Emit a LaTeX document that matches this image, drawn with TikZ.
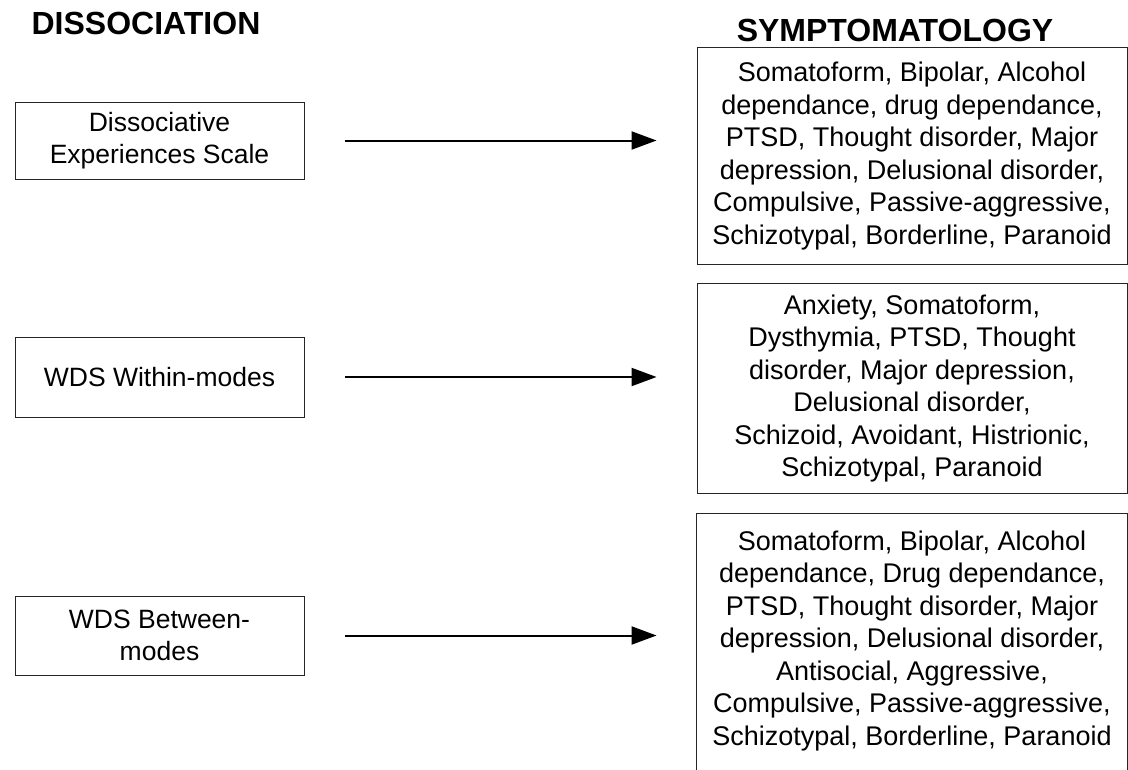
\documentclass[tikz,border=0pt]{standalone}
\usepackage{fontspec}
\setmainfont{Liberation Sans}
\usetikzlibrary{arrows.meta}

\tikzset{
  frame/.style={draw=black!85, line width=0.9pt},
  heading/.style={font=\fontsize{32}{36}\selectfont\bfseries, inner sep=0pt, anchor=base},
  leftbox/.style={frame, minimum width=289pt, inner sep=0pt,
    align=center, font=\fontsize{26.5}{32.5}\selectfont},
  symbox/.style={frame, minimum width=430pt, inner sep=0pt,
    align=center, font=\fontsize{27}{32.5}\selectfont, anchor=north},
  link/.style={line width=2pt, -{Triangle[length=25pt,width=18pt]},
    shorten <=41pt, shorten >=40pt}
}

\begin{document}
\begin{tikzpicture}[x=1pt,y=1pt]
  \clip (0,0) rectangle (1128,-769);
  \fill[white] (0,0) rectangle (1128,-769);

  % column headings
  \node[heading] (hd) at (146,-34) {DISSOCIATION};
  \node[heading] (hs) at (895,-41) {SYMPTOMATOLOGY};

  % dissociation measures
  \node[leftbox, minimum height=77pt] (d1) at (159.5,-140.5)
    {Dissociative\\Experiences Scale};
  \node[leftbox, minimum height=80pt] (d2) at (159.5,-377)
    {WDS Within-modes};
  \node[leftbox, minimum height=79pt] (d3) at (159.5,-635.5)
    {WDS Between-\\modes};

  % symptom lists
  \node[symbox, minimum height=217pt] (s1) at (912,-47)
    {Somatoform, Bipolar, Alcohol\\
     dependance, drug dependance,\\
     PTSD, Thought disorder, Major\\
     depression, Delusional disorder,\\
     Compulsive, Passive-aggressive,\\
     Schizotypal, Borderline, Paranoid};
  \node[symbox, minimum height=210pt] (s2) at (912,-283)
    {Anxiety, Somatoform,\\
     Dysthymia, PTSD, Thought\\
     disorder, Major depression,\\
     Delusional disorder,\\
     Schizoid, Avoidant, Histrionic,\\
     Schizotypal, Paranoid};
  \node[symbox, draw=none, minimum height=255pt] (s3) at (912,-513)
    {Somatoform, Bipolar, Alcohol\\
     dependance, Drug dependance,\\
     PTSD, Thought disorder, Major\\
     depression, Delusional disorder,\\
     Antisocial, Aggressive,\\
     Compulsive, Passive-aggressive,\\
     Schizotypal, Borderline, Paranoid};
  % the last list runs past the lower edge: open frame
  \coordinate (floor) at (0,-790);
  \draw[frame] (s3.north west |- floor) -- (s3.north west)
    -- (s3.north east) -- (s3.north east |- floor);

  % links
  \draw[link] (d1.east) -- (d1.east -| s1.west);
  \draw[link] (d2.east) -- (d2.east -| s2.west);
  \draw[link] (d3.east) -- (d3.east -| s3.west);
\end{tikzpicture}
\end{document}
